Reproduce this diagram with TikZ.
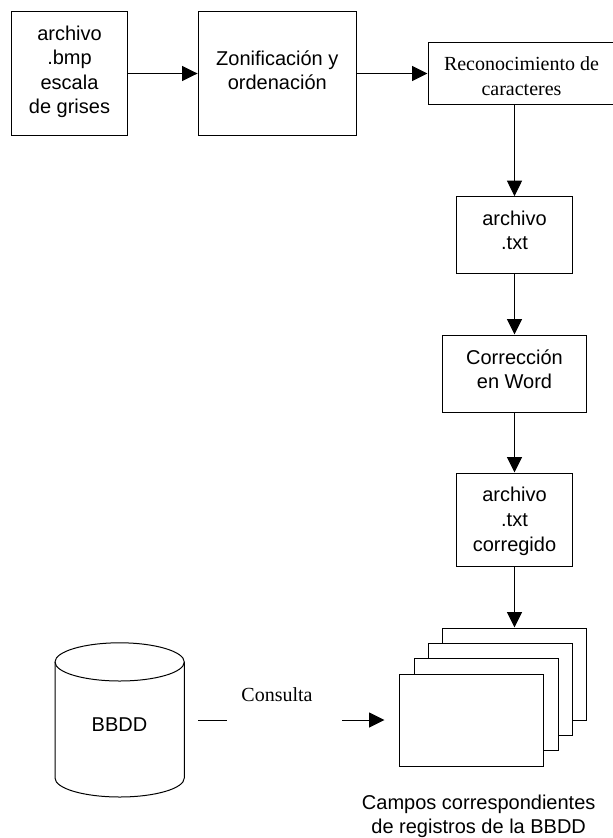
\documentclass[tikz,border=0pt]{standalone}
\usepackage{fontspec}
\setmainfont{Liberation Sans}
\newfontfamily\serifface{Liberation Serif}
\usetikzlibrary{arrows.meta}
\tikzset{
  x=1pt,y=-1pt,
  flowbox/.style={draw=black,line width=1pt,fill=white,align=center,inner sep=0pt,font=\fontsize{20}{24.6}\selectfont},
  flowarrow/.style={draw=black,line width=1pt,-{Triangle[length=15.5pt,width=15pt]}},
  plainline/.style={draw=black,line width=1pt},
  serifbox/.style={font=\serifface\fontsize{20}{24.5}\selectfont},
  caption/.style={align=center,inner sep=0pt,font=\fontsize{20}{24.3}\selectfont},
  sheet/.style={flowbox,minimum width=144pt,minimum height=92pt}
}
\newcommand{\boxat}[6]{\node[flowbox,#6,minimum width=#3pt,minimum height=#4pt] (#1) at (#2) {#5};}
\newcommand{\topstrut}[1]{\rule{0pt}{#1pt}}
\newcommand{\botstrut}[1]{\rule[-#1pt]{0pt}{#1pt}}
\begin{document}
\begin{tikzpicture}
\useasboundingbox (0,0) rectangle (613,838);
\boxat{bmp}{69.5,73.5}{115.5}{123.5}{archivo\\.bmp\\escala\\de grises\botstrut{7.5}}{}
\boxat{zon}{277.3,73.5}{158.5}{123.5}{Zonificación y\\ordenación\botstrut{7}}{}
\boxat{rec}{521.5,73.5}{187}{61.7}{\topstrut{19}Reconocimiento de\\caracteres}{serifbox}
\boxat{txt}{514.5,235.2}{115.5}{77}{archivo\\.txt\botstrut{10}}{}
\boxat{cor}{514.5,373.5}{143.5}{77}{Corrección\\en Word\botstrut{9}}{}
\boxat{txc}{514.5,519.5}{115.5}{93}{\topstrut{18}archivo\\.txt\\corregido}{}
\node[sheet] (s4) at (514,674) {};
\node[sheet] (s3) at (500,689) {};
\node[sheet] (s2) at (486,704.5) {};
\node[sheet] (s1) at (471.3,720) {};
\draw[flowarrow] (bmp) -- (zon);
\draw[flowarrow] (zon) -- (rec.west |- zon);
\draw[flowarrow] (rec.south -| txt) -- (txt);
\draw[flowarrow] (txt) -- (cor);
\draw[flowarrow] (cor) -- (txc);
\draw[flowarrow] (txc) -- (txc |- s4.north);
\draw[plainline] (55,662) .. controls (55,651.5) and (84,642.8) .. (119.7,642.8) .. controls (155,642.8) and (184.3,651.5) .. (184.3,662) -- (184.3,778) .. controls (184.3,788.5) and (155,797) .. (119.7,797) .. controls (84,797) and (55,788.5) .. (55,778) -- cycle;
\draw[plainline] (55,662) .. controls (55,672.5) and (84,681) .. (119.7,681) .. controls (155,681) and (184.3,672.5) .. (184.3,662);
\node[inner sep=0pt,anchor=base,font=\fontsize{20}{24}\selectfont] (db) at (119.5,731.7) {BBDD};
\coordinate (qa) at (198,720);
\coordinate (qb) at (226.7,720);
\coordinate (qc) at (342.3,720);
\coordinate (qd) at (384.5,720);
\draw[plainline] (qa) -- (qb);
\draw[flowarrow] (qc) -- (qd);
\node[inner sep=0pt,anchor=base,serifbox] (q) at (277,701.7) {Consulta};
\node[caption] (cap) at (478.7,816.2) {Campos correspondientes\\de registros de la BBDD};
\end{tikzpicture}
\end{document}
